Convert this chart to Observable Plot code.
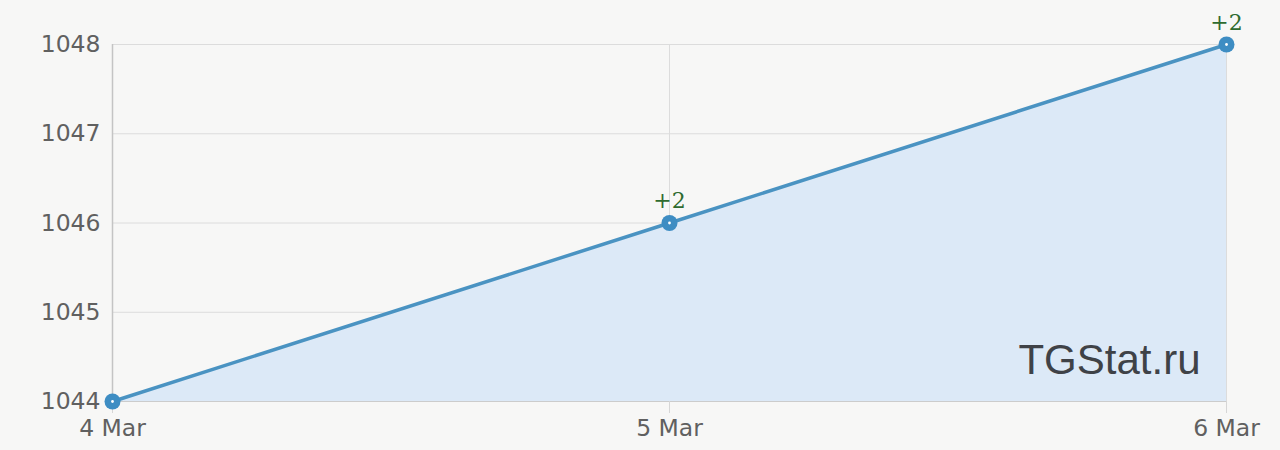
<!DOCTYPE html>
<html>
<head>
<meta charset="utf-8">
<script src="https://cdn.jsdelivr.net/npm/d3@7"></script>
<script src="https://cdn.jsdelivr.net/npm/@observablehq/plot@0.6"></script>
<style>
  html, body { margin: 0; padding: 0; background: #f7f7f6; }
</style>
</head>
<body>
<div id="chart"></div>
<script>
const dates = ["2024-03-04", "2024-03-05", "2024-03-06"];
const values = [1044, 1046, 1048];
const deltas = ["", "+2", "+2"];
const yTicks = [1044, 1045, 1046, 1047, 1048];
const watermark = ["TGStat.ru"];

const data = dates.map((d, i) => ({date: new Date(d + "T00:00:00Z"), value: values[i], delta: deltas[i]}));
const xTicks = data.map(d => d.date);

const chart = Plot.plot({
  width: 1280,
  height: 450,
  marginLeft: 112,
  marginRight: 54,
  marginTop: 44,
  marginBottom: 49,
  style: {background: "#f7f7f6", fontFamily: "DejaVu Sans", fontSize: "23.5px", color: "#606060"},
  x: {type: "utc", domain: [xTicks[0], xTicks[xTicks.length - 1]], ticks: xTicks, tickFormat: d3.utcFormat("%-d Mar"), label: null},
  y: {domain: [1044, 1048], ticks: yTicks, tickFormat: d => String(d), label: null},
  marks: [
    Plot.gridY(yTicks, {stroke: "#dcdcdc", strokeOpacity: 1, strokeWidth: 1}),
    Plot.gridX(xTicks, {stroke: "#dcdcdc", strokeOpacity: 1, strokeWidth: 1}),
    Plot.areaY(data, {x: "date", y1: 1044, y2: "value", fill: "#dce9f7", fillOpacity: 1}),
    Plot.ruleX([xTicks[0]], {stroke: "#c4c4c4", strokeWidth: 1.5}),
    Plot.ruleY([1044], {stroke: "#cccccc"}),
    Plot.axisY({ticks: yTicks, tickSize: 0, tickPadding: 12, tickFormat: d => String(d), fill: "#606060", label: null}),
    Plot.axisX({ticks: xTicks, tickSize: 12, tickPadding: 6, stroke: "#d6d6d6", tickFormat: d3.utcFormat("%-d Mar"), fill: "#606060", label: null}),
    Plot.line(data, {x: "date", y: "value", stroke: "#4a93c2", strokeWidth: 3.5}),
    Plot.dot(data, {x: "date", y: "value", r: 8, fill: "#3e8dc3", stroke: "none"}),
    Plot.dot(data, {x: "date", y: "value", r: 1.4, fill: "#ffffff", stroke: "none"}),
    Plot.text(data, {x: "date", y: "value", text: "delta", dy: -22, fill: "#2f6b2f", fontFamily: "DejaVu Serif", fontSize: 22}),
    Plot.text(watermark, {frameAnchor: "bottom-right", dx: -26, dy: -28, fill: "#3f4247", fontFamily: "Liberation Sans", fontSize: 42, textAnchor: "end"})
  ]
});
document.getElementById("chart").appendChild(chart);
</script>
</body>
</html>
